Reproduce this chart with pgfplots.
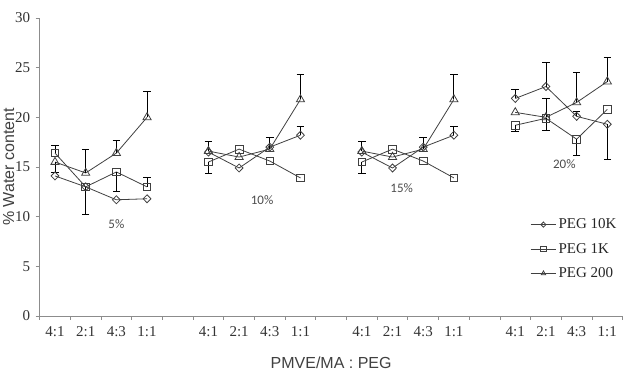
\documentclass[border=0pt]{standalone}
\usepackage{fontspec}
\setmainfont{Liberation Serif}
\newfontfamily\arialf{Liberation Sans}
\newfontfamily\calibrif{Carlito}
\usepackage{pgfplots}
\pgfplotsset{compat=1.18}
\usepackage{pgfplotstable}

% PEG 10K
\pgfplotstableread{
x y
0 14.1
1 13.0
2 11.7
3 11.8
4 nan
5 16.5
6 14.9
7 17.0
8 18.2
9 nan
10 16.5
11 14.9
12 17.0
13 18.2
14 nan
15 21.9
16 23.1
17 20.1
18 19.3
}\tenk
% PEG 1K
\pgfplotstableread{
x y
0 16.4
1 13.0
2 14.5
3 13.0
4 nan
5 15.5
6 16.8
7 15.6
8 13.9
9 nan
10 15.5
11 16.8
12 15.6
13 13.9
14 nan
15 19.2
16 19.9
17 17.8
18 20.8
}\onek
% PEG 200
\pgfplotstableread{
x y
0 15.5
1 14.4
2 16.4
3 20.0
4 nan
5 16.6
6 16.0
7 16.8
8 21.8
9 nan
10 16.6
11 16.0
12 16.8
13 21.8
14 nan
15 20.5
16 20.0
17 21.5
18 23.6
}\twohundred
% upward error bars
\pgfplotstableread{
x y e
8 18.2 0.9
13 18.2 0.9
15 21.9 0.9
16 23.1 2.4
17 20.1 0.5
0 16.4 0.8
3 13.0 1.0
1 14.4 2.4
2 16.4 1.3
3 20.0 2.6
5 16.6 1.0
7 16.8 1.2
8 21.8 2.5
10 16.6 1.0
12 16.8 1.2
13 21.8 2.5
16 20.0 1.9
17 21.5 3.0
18 23.6 2.4
}\errplus
% downward error bars
\pgfplotstableread{
x y e
18 19.3 3.5
1 13.0 2.8
2 14.5 2.0
5 15.5 1.1
10 15.5 1.1
15 19.2 0.6
16 19.9 1.2
17 17.8 1.6
0 15.5 1.0
}\errminus

\begin{document}
\begin{tikzpicture}
\path[use as bounding box] (-55pt,-55pt) rectangle (583pt,316pt);
\begin{axis}[
  at={(0pt,0pt)}, anchor=origin,
  scale only axis,
  width=583pt, height=298pt,
  xmin=-0.5, xmax=18.5,
  ymin=0, ymax=30,
  axis x line*=bottom, axis y line*=left,
  axis line style={draw=black!45, line width=0.8pt},
  xtick={0,1,2,3,5,6,7,8,10,11,12,13,15,16,17,18},
  xticklabels={4:1,2:1,4:3,1:1,4:1,2:1,4:3,1:1,4:1,2:1,4:3,1:1,4:1,2:1,4:3,1:1},
  major x tick style={draw=none},
  minor xtick={-0.5,0.5,...,18.5},
  minor tick length=4pt,
  minor tick style={draw=black!45, line width=0.8pt},
  ytick={0,5,...,30},
  major tick length=4pt,
  tick align=outside,
  tick style={draw=black!45, line width=0.8pt},
  tick label style={font=\fontsize{15}{17}\selectfont, text=black!80},
  /pgf/number format/assume math mode=true,
  xticklabel style={yshift=-3pt},
  yticklabel style={xshift=-2pt},
  xlabel={PMVE/MA : PEG},
  ylabel={\% Water content},
  label style={font=\arialf\fontsize{16}{18}\selectfont, text=black!75},
  xlabel style={yshift=-13pt},
  ylabel style={yshift=-6pt},
  unbounded coords=jump,
  clip=false,
  legend style={at={(rel axis cs:0.836,0.34)}, anchor=north west, draw=none, fill=none,
    font=\fontsize{15}{17}\selectfont, text=black!85, row sep=9pt},
  legend cell align=left,
  legend image code/.code={
    \draw[mark repeat=2,mark phase=2,#1,mark size=2.6pt] plot coordinates {(0cm,0cm) (0.45cm,0cm) (0.9cm,0cm)};
  },
]
\addplot[draw=black!75, line width=0.8pt, mark=diamond, mark size=4pt,
  mark options={solid, fill=white, xscale=1.3}] table[x=x,y=y] {\tenk};
\addlegendentry{PEG 10K}
\addplot[draw=black!75, line width=0.8pt, mark=square, mark size=3.8pt,
  mark options={solid, fill=white}] table[x=x,y=y] {\onek};
\addlegendentry{PEG 1K}
\addplot[draw=black!75, line width=0.8pt, mark=triangle, mark size=4.7pt,
  mark options={solid, fill=white}] table[x=x,y=y] {\twohundred};
\addlegendentry{PEG 200}

\addplot[forget plot, draw=none, mark=none,
  error bars/.cd, y dir=plus, y explicit,
  error bar style={draw=black, line width=0.8pt},
  error mark options={rotate=90, mark size=3.8pt, draw=black, line width=0.8pt}]
  table[x=x,y=y,y error=e] {\errplus};
\addplot[forget plot, draw=none, mark=none,
  error bars/.cd, y dir=minus, y explicit,
  error bar style={draw=black, line width=0.8pt},
  error mark options={rotate=90, mark size=3.8pt, draw=black, line width=0.8pt}]
  table[x=x,y=y,y error=e] {\errminus};

\node[font=\calibrif\fontsize{13}{15}\selectfont, text=black!70] at (axis cs:2,9.2) {5\%};
\node[font=\calibrif\fontsize{13}{15}\selectfont, text=black!70] at (axis cs:6.75,11.7) {10\%};
\node[font=\calibrif\fontsize{13}{15}\selectfont, text=black!70] at (axis cs:11.3,12.9) {15\%};
\node[font=\calibrif\fontsize{13}{15}\selectfont, text=black!70] at (axis cs:16.6,15.3) {20\%};
\end{axis}
\end{tikzpicture}
\end{document}
